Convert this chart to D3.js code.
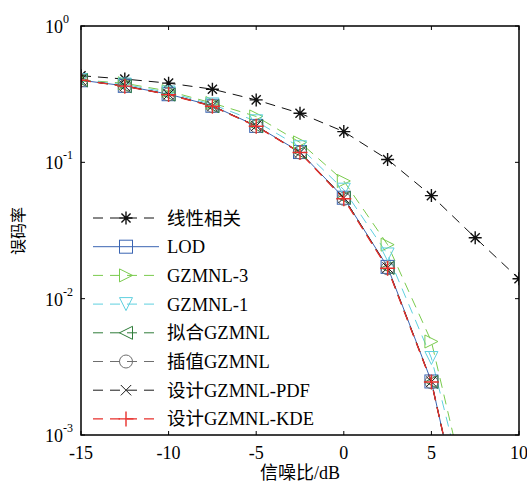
<!DOCTYPE html>
<html><head><meta charset="utf-8">
<script src="https://cdn.jsdelivr.net/npm/d3@7"></script>
<style>body{margin:0;background:#fff}svg{display:block}</style>
</head><body>
<script>
const snr = [-15,-12.5,-10,-7.5,-5,-2.5,0,2.5,5,7.5];
const snrLin = [-15,-12.5,-10,-7.5,-5,-2.5,0,2.5,5,7.5,10];
const berLinear = [0.432,0.408,0.381,0.344,0.287,0.229,0.168,0.105,0.057,0.028,0.014];
const berLOD    = [0.400,0.364,0.316,0.260,0.185,0.119,0.055,0.0171,0.00247,0.000089];
const berGZ3    = [0.402,0.380,0.333,0.272,0.217,0.140,0.073,0.0249,0.00485,0.000205];
const berGZ1    = [0.401,0.372,0.325,0.266,0.200,0.129,0.063,0.0211,0.00367,0.00019];
const berFit    = [0.400,0.362,0.314,0.258,0.184,0.118,0.055,0.0168,0.00245,0.00009];
const berInterp = [0.400,0.363,0.315,0.259,0.184,0.118,0.054,0.0167,0.00244,0.00009];
const berPDF    = [0.400,0.363,0.315,0.259,0.185,0.118,0.055,0.0169,0.00246,0.00009];
const berKDE    = [0.400,0.362,0.314,0.258,0.184,0.118,0.054,0.0167,0.00245,0.000092];
const xTicks = [-15,-10,-5,0,5,10];
const yTicks = [0,-1,-2,-3];

const series = [
  {name:"线性相关", x:snrLin, y:berLinear, color:"#111", dash:"10,7", w:1, marker:"asterisk"},
  {name:"LOD", x:snr, y:berLOD, color:"#3a64b2", dash:null, w:1, marker:"square"},
  {name:"GZMNL-3", x:snr, y:berGZ3, color:"#7acb4e", dash:"10,7", w:1, marker:"triRight"},
  {name:"GZMNL-1", x:snr, y:berGZ1, color:"#5fd0df", dash:"10,7", w:1, marker:"triDown"},
  {name:"拟合GZMNL", x:snr, y:berFit, color:"#2f7d3a", dash:"10,7", w:1, marker:"triLeft"},
  {name:"插值GZMNL", x:snr, y:berInterp, color:"#6e6e6e", dash:"10,7", w:1, marker:"circle"},
  {name:"设计GZMNL-PDF", x:snr, y:berPDF, color:"#1a1a1a", dash:"10,7", w:1, marker:"cross"},
  {name:"设计GZMNL-KDE", x:snr, y:berKDE, color:"#e8302c", dash:"10,7", w:1.4, marker:"plus"}
];

const W=527,H=485, L=81,R=519,T=26,B=435;
const svg=d3.select("body").append("svg").attr("width",W).attr("height",H);
const x=d3.scaleLinear().domain([-15,10]).range([L,R]);
const y=d3.scaleLog().domain([1e-3,1]).range([B,T]);
const font="'Liberation Serif','Noto Sans CJK SC',serif";

svg.append("defs").append("clipPath").attr("id","clip")
  .append("rect").attr("x",L).attr("y",T).attr("width",R-L).attr("height",B-T);

function drawMarker(g,type,cx,cy,color){
  const s=6.5;
  const p=g.append("g").attr("transform",`translate(${cx},${cy})`)
    .attr("fill","none").attr("stroke",color).attr("stroke-width",1);
  if(type==="square") p.append("rect").attr("x",-s).attr("y",-s).attr("width",2*s).attr("height",2*s);
  else if(type==="circle") p.append("circle").attr("r",s);
  else if(type==="triRight") p.append("path").attr("d",`M${-s},${-s}L${s},0L${-s},${s}Z`);
  else if(type==="triLeft") p.append("path").attr("d",`M${s},${-s}L${-s},0L${s},${s}Z`);
  else if(type==="triDown") p.append("path").attr("d",`M${-s},${-s}L${s},${-s}L0,${s}Z`);
  else if(type==="cross") p.append("path").attr("d",`M${-s*0.8},${-s*0.8}L${s*0.8},${s*0.8}M${-s*0.8},${s*0.8}L${s*0.8},${-s*0.8}`);
  else if(type==="plus") p.append("path").attr("d",`M${-s-1},0L${s+1},0M0,${-s-1}L0,${s+1}`).attr("stroke-width",1.4);
  else if(type==="asterisk") p.append("path").attr("d",`M${-s},0L${s},0M0,${-s}L0,${s}M${-s*0.7},${-s*0.7}L${s*0.7},${s*0.7}M${-s*0.7},${s*0.7}L${s*0.7},${-s*0.7}`).attr("stroke-width",1.4);
}

const plot=svg.append("g").attr("clip-path","url(#clip)");
const line=d3.line().x(d=>x(d[0])).y(d=>y(d[1]));
series.forEach(s=>{
  const pts=s.x.map((v,i)=>[v,s.y[i]]);
  plot.append("path").attr("d",line(pts)).attr("fill","none")
    .attr("stroke",s.color).attr("stroke-width",s.w)
    .attr("stroke-dasharray",s.dash);
});
series.forEach(s=>{
  s.x.forEach((v,i)=>{ if(s.y[i]>=1e-3) drawMarker(plot,s.marker,x(v),y(s.y[i]),s.color); });
});

// axes box
const ax=svg.append("g");
ax.append("rect").attr("x",L).attr("y",T).attr("width",R-L).attr("height",B-T)
  .attr("fill","none").attr("stroke","#000").attr("stroke-width",1.5);
xTicks.forEach(t=>{
  ax.append("line").attr("x1",x(t)).attr("x2",x(t)).attr("y1",B).attr("y2",B-4).attr("stroke","#000");
  ax.append("line").attr("x1",x(t)).attr("x2",x(t)).attr("y1",T).attr("y2",T+4).attr("stroke","#000");
  ax.append("text").attr("x",x(t)).attr("y",B+24).attr("text-anchor","middle")
    .attr("font-family",font).attr("font-size",18).text(t);
});
yTicks.forEach(e=>{
  const yy=y(Math.pow(10,e));
  ax.append("line").attr("x1",L).attr("x2",L+4).attr("y1",yy).attr("y2",yy).attr("stroke","#000");
  ax.append("line").attr("x1",R).attr("x2",R-4).attr("y1",yy).attr("y2",yy).attr("stroke","#000");
  ax.append("text").attr("x",63).attr("y",yy+7).attr("text-anchor","end")
    .attr("font-family",font).attr("font-size",18).text("10");
  ax.append("text").attr("x",63).attr("y",yy-3).attr("text-anchor","start")
    .attr("font-family",font).attr("font-size",12).text(e===0?"0":String(e));
});
svg.append("text").attr("x",(L+R)/2).attr("y",479).attr("text-anchor","middle")
  .attr("font-family",font).attr("font-size",18).text("信噪比/dB");
svg.append("text").attr("transform","translate(24,231) rotate(-90)").attr("text-anchor","middle")
  .attr("font-family",font).attr("font-size",16).text("误码率");

// legend
const lg=svg.append("g");
series.forEach((s,i)=>{
  const yy=218+i*28.7;
  lg.append("line").attr("x1",93).attr("x2",159).attr("y1",yy).attr("y2",yy)
    .attr("stroke",s.color).attr("stroke-width",s.w).attr("stroke-dasharray",s.dash);
  drawMarker(lg,s.marker,126,yy,s.color);
  lg.append("text").attr("x",167).attr("y",yy+6.5).attr("font-family",font)
    .attr("font-size",18.5).text(s.name);
});
</script>
</body></html>
